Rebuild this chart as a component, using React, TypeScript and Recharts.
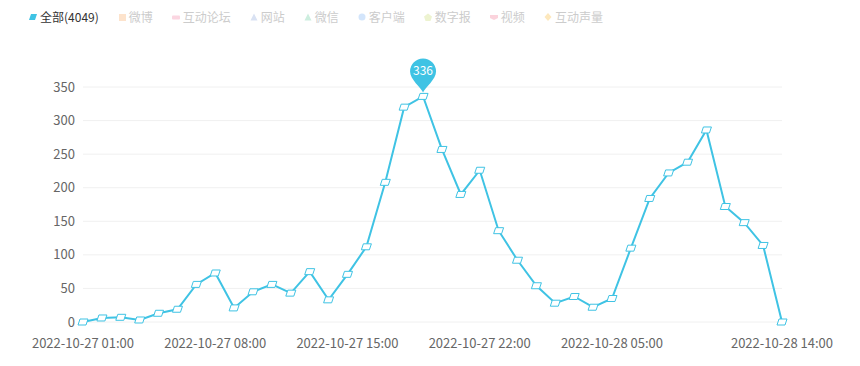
import React from "react";
import { LineChart, Line, XAxis, YAxis, CartesianGrid, ReferenceDot } from "recharts";

const times = [
  "2022-10-27 01:00", "2022-10-27 02:00", "2022-10-27 03:00", "2022-10-27 04:00",
  "2022-10-27 05:00", "2022-10-27 06:00", "2022-10-27 07:00", "2022-10-27 08:00",
  "2022-10-27 09:00", "2022-10-27 10:00", "2022-10-27 11:00", "2022-10-27 12:00",
  "2022-10-27 13:00", "2022-10-27 14:00", "2022-10-27 15:00", "2022-10-27 16:00",
  "2022-10-27 17:00", "2022-10-27 18:00", "2022-10-27 19:00", "2022-10-27 20:00",
  "2022-10-27 21:00", "2022-10-27 22:00", "2022-10-27 23:00", "2022-10-28 00:00",
  "2022-10-28 01:00", "2022-10-28 02:00", "2022-10-28 03:00", "2022-10-28 04:00",
  "2022-10-28 05:00", "2022-10-28 06:00", "2022-10-28 07:00", "2022-10-28 08:00",
  "2022-10-28 09:00", "2022-10-28 10:00", "2022-10-28 11:00", "2022-10-28 12:00",
  "2022-10-28 13:00", "2022-10-28 14:00",
];

const counts = [
  0, 6, 7, 3, 13, 19, 56, 73, 21, 45, 56, 43, 75, 33, 71, 112, 208, 320, 336,
  257, 190, 226, 136, 92, 54, 28, 38, 22, 35, 110, 184, 222, 238, 286, 172, 148, 114, 0,
];

const xTicks = [
  "2022-10-27 01:00", "2022-10-27 08:00", "2022-10-27 15:00",
  "2022-10-27 22:00", "2022-10-28 05:00", "2022-10-28 14:00",
];
const yTicks = [0, 50, 100, 150, 200, 250, 300, 350];

const legendNames = ["全部(4049)", "微博", "互动论坛", "网站", "微信", "客户端", "数字报", "视频", "互动声量"];
const legendColors = ["#3fc3e4", "#fde3cc", "#fbd6e1", "#d9e2f3", "#cdeedf", "#d3e5fb", "#edf3d0", "#fbd3dc", "#fde8bd"];
const legendShapes = ["para", "square", "rect", "triangle", "triangle", "circle", "pentagon", "shield", "diamond"];
const legendActive = [true, false, false, false, false, false, false, false, false];

const LINE = "#3fc3e4";
const FONT = '"Noto Sans CJK SC", "Noto Sans", sans-serif';

const data = times.map((t, i) => ({ time: t, value: counts[i] }));
const maxIdx = counts.indexOf(Math.max(...counts));

function LegendIcon({ shape, color }: { shape: string; color: string }) {
  let el: React.ReactNode = null;
  if (shape === "para") el = <path d="M1 8 L7 8 L9 2 L3 2 Z" fill={color} />;
  else if (shape === "square") el = <rect x={2} y={2} width={7} height={7} fill={color} />;
  else if (shape === "rect") el = <rect x={1} y={3.5} width={8} height={4} rx={1} fill={color} />;
  else if (shape === "triangle") el = <path d="M5 1.5 L8.5 8.5 L1.5 8.5 Z" fill={color} />;
  else if (shape === "circle") el = <circle cx={5} cy={5} r={3.5} fill={color} />;
  else if (shape === "pentagon") el = <path d="M5 1.5 L9 4.5 L7.5 9 L2.5 9 L1 4.5 Z" fill={color} />;
  else if (shape === "shield") el = <path d="M1 3 L9 3 L9 6 L5 8 L1 6 Z" fill={color} />;
  else if (shape === "diamond") el = <path d="M5 1 L8.5 5 L5 9 L1.5 5 Z" fill={color} />;
  return (
    <svg width={10} height={10} style={{ marginRight: 2 }}>
      {el}
    </svg>
  );
}

function TopLegend() {
  return (
    <div
      style={{
        position: "absolute",
        top: 9,
        left: 28,
        display: "flex",
        alignItems: "center",
        gap: 18,
        fontFamily: FONT,
        fontSize: 12,
        lineHeight: "16px",
      }}
    >
      {legendNames.map((name, i) => (
        <div key={name} style={{ display: "flex", alignItems: "center", color: legendActive[i] ? "#333" : "#ccc" }}>
          <LegendIcon shape={legendShapes[i]} color={legendColors[i]} />
          {name}
        </div>
      ))}
    </div>
  );
}

function ParaDot(props: any) {
  const { cx, cy, index } = props;
  if (cx == null || cy == null) return null;
  return (
    <path
      key={index}
      d={`M${cx - 5} ${cy + 3} L${cx + 3} ${cy + 3} L${cx + 5} ${cy - 3} L${cx - 3} ${cy - 3} Z`}
      fill="#fff"
      stroke={LINE}
      strokeWidth={1}
    />
  );
}

function Pin(props: any) {
  const { cx, cy } = props;
  if (cx == null || cy == null) return null;
  const r = 13;
  const c = cy - 25;
  const tip = cy - 4;
  const d = `M${cx} ${tip} C${cx - 2} ${tip - 5} ${cx - r} ${c + 8} ${cx - r} ${c} A${r} ${r} 0 1 1 ${cx + r} ${c} C${cx + r} ${c + 8} ${cx + 2} ${tip - 5} ${cx} ${tip} Z`;
  return (
    <g>
      <path d={d} fill={LINE} />
      <text x={cx} y={c + 4} textAnchor="middle" fill="#fff" fontSize={12} fontFamily={FONT}>
        {counts[maxIdx]}
      </text>
    </g>
  );
}

export default function App() {
  return (
    <div style={{ position: "absolute", left: 0, top: 0, width: 860, height: 366, background: "#fff" }}>
      <TopLegend />
      <LineChart width={860} height={366} data={data} margin={{ top: 87, right: 78, left: 0, bottom: 14 }}>
        <CartesianGrid horizontal vertical={false} stroke="#f0f0f0" />
        <XAxis
          dataKey="time"
          ticks={xTicks}
          interval={0}
          tickLine={false}
          axisLine={false}
          height={30}
          tickMargin={11}
          tick={{ fill: "#666", fontSize: 13, fontFamily: FONT }}
        />
        <YAxis
          domain={[0, 350]}
          ticks={yTicks}
          width={83}
          tickLine={false}
          axisLine={false}
          tick={{ fill: "#666", fontSize: 13, fontFamily: FONT }}
        />
        <Line
          type="linear"
          dataKey="value"
          stroke={LINE}
          strokeWidth={2}
          dot={<ParaDot />}
          activeDot={false}
          isAnimationActive={false}
        />
        <ReferenceDot x={times[maxIdx]} y={counts[maxIdx]} shape={<Pin />} ifOverflow="visible" />
      </LineChart>
    </div>
  );
}
